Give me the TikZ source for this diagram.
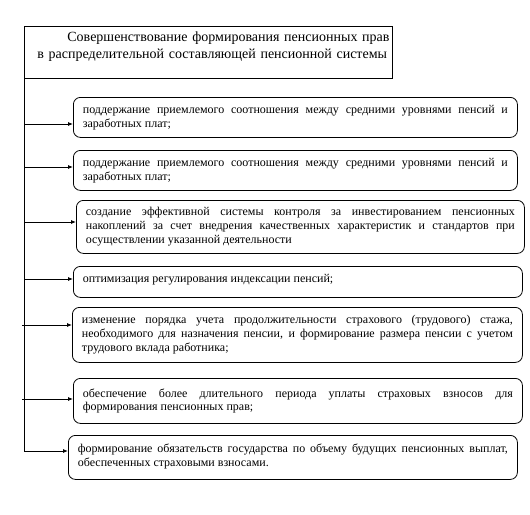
\documentclass[tikz,border=0pt]{standalone}
\usepackage{fontspec}
\setmainfont{Liberation Serif}
\usetikzlibrary{arrows.meta}
\newcommand{\padbelow}[1]{\par\vspace{#1}\hrule height 0pt}
\tikzset{
  titlebox/.style={draw, line width=0.8pt, anchor=north west, inner xsep=6pt, inner ysep=0pt,
    text width=356pt, align=left, minimum height=52pt,
    font=\fontsize{14}{17}\selectfont},
  itembox/.style={draw, line width=0.8pt, rounded corners=7pt, anchor=north west,
    inner xsep=9.5pt, inner ysep=0pt, align=justify,
    font=\fontsize{12}{13.8}\selectfont},
  trunk/.style={line width=0.8pt},
  arr/.style={line width=0.8pt, -{Latex[length=5pt,width=4pt]}}
}
\begin{document}
\begin{tikzpicture}[x=1pt,y=-1pt]
\useasboundingbox (0,0) rectangle (530,514);
\fill[white] (0,0) rectangle (530,514);

\node[titlebox] (title) at (24,26) {\makebox[0pt][l]{\hspace{37pt}Совершенствование формирования пенсионных прав}\\\makebox[0pt][l]{\hspace{7pt}в распределительной составляющей пенсионной системы}\padbelow{11pt}};

\node[itembox, text width=425pt, minimum height=40pt] (b1) at (73,97)
 {поддержание приемлемого соотношения между средними уровнями пенсий и\linebreak заработных плат;};
\node[itembox, text width=425pt, minimum height=40pt] (b2) at (73,150)
 {поддержание приемлемого соотношения между средними уровнями пенсий и\linebreak заработных плат;};
\node[itembox, text width=429pt, minimum height=53pt] (b3) at (76,200)
 {создание эффективной системы контроля за инвестированием пенсионных\linebreak накоплений за счет внедрения качественных характеристик и стандартов при\linebreak осуществлении указанной деятельности};
\node[itembox, text width=430pt, minimum height=31pt] (b4) at (73,266)
 {оптимизация регулирования индексации пенсий;\padbelow{4pt}};
\node[itembox, text width=431pt, minimum height=55pt] (b5) at (72,307)
 {изменение порядка учета продолжительности страхового (трудового) стажа,\linebreak необходимого для назначения пенсии, и формирование размера пенсии с учетом\linebreak трудового вклада работника;};
\node[itembox, text width=430pt, minimum height=45pt] (b6) at (73,378)
 {обеспечение более длительного периода уплаты страховых взносов для\linebreak формирования пенсионных прав;};
\node[itembox, text width=430pt, minimum height=44pt] (b7) at (68,435)
 {формирование обязательств государства по объему будущих пенсионных выплат,\linebreak обеспеченных страховыми взносами.\padbelow{2pt}};

\coordinate (t1) at (24,124);
\coordinate (t2) at (24,167);
\coordinate (t3) at (25,222);
\coordinate (t4) at (25,279);
\coordinate (t5) at (22,325);
\coordinate (t6) at (22,399);
\coordinate (t7) at (24,451);

\draw[trunk] (title.south west) -- (t7);
\draw[arr] (t1) -- (t1 -| b1.west);
\draw[arr] (t2) -- (t2 -| b2.west);
\draw[arr] (t3) -- (t3 -| b3.west);
\draw[arr] (t4) -- (t4 -| b4.west);
\draw[arr] (t5) -- (t5 -| b5.west);
\draw[arr] (t6) -- (t6 -| b6.west);
\draw[arr] (t7) -- (t7 -| b7.west);
\end{tikzpicture}
\end{document}
